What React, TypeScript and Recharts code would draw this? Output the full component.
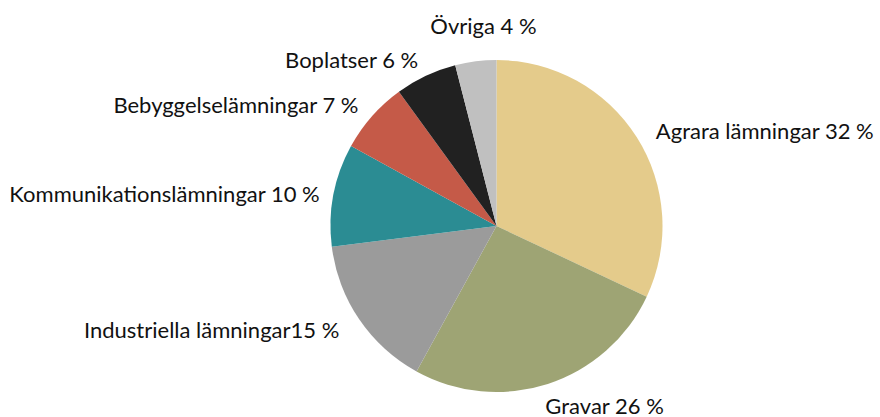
import React from 'react';
import { PieChart, Pie, Cell } from 'recharts';

const categories = [
  'Agrara lämningar',
  'Gravar',
  'Industriella lämningar',
  'Kommunikationslämningar',
  'Bebyggelselämningar',
  'Boplatser',
  'Övriga',
];
const shares = [32, 26, 15, 10, 7, 6, 4];
const labelTexts = [
  'Agrara lämningar 32 %',
  'Gravar 26 %',
  'Industriella lämningar15 %',
  'Kommunikationslämningar 10 %',
  'Bebyggelselämningar 7 %',
  'Boplatser 6 %',
  'Övriga 4 %',
];
const sliceColors = ['#E4CB8B', '#9EA474', '#9B9B9B', '#2B8C93', '#C55A48', '#212121', '#C0C0C0'];

const data = categories.map((name, i) => ({ name, value: shares[i], label: labelTexts[i] }));

// small nudges to mimic the original label placement
const labelNudge: Record<number, [number, number]> = {
  0: [4, 3],
  1: [-8, 5],
  2: [-5, 0],
  3: [4, 2],
  6: [10, -18],
};

const RADIAN = Math.PI / 180;

const renderLabel = (props: any) => {
  const { cx, cy, midAngle, outerRadius, index } = props;
  const r = outerRadius + 18;
  const cos = Math.cos(-midAngle * RADIAN);
  const sin = Math.sin(-midAngle * RADIAN);
  let x = cx + r * cos;
  let y = cy + r * sin;
  const anchor: 'start' | 'end' | 'middle' = cos > 0.3 ? 'start' : cos < -0.2 ? 'end' : 'middle';
  const nudge = labelNudge[index];
  if (nudge) {
    x += nudge[0];
    y += nudge[1];
  }
  return (
    <text
      x={x}
      y={y}
      textAnchor={anchor}
      dominantBaseline="central"
      fill="#111"
      fontSize={22}
      fontFamily="Lato, sans-serif"
    >
      {data[index].label}
    </text>
  );
};

export default function App() {
  return (
    <div style={{ position: 'absolute', left: 0, top: 0, width: 880, height: 417, background: '#fff' }}>
      <PieChart width={880} height={417} margin={{ top: 0, right: 0, bottom: 0, left: 0 }}>
        <Pie
          data={data}
          dataKey="value"
          nameKey="name"
          cx={496.5}
          cy={226}
          outerRadius={166}
          startAngle={90}
          endAngle={-270}
          stroke="none"
          label={renderLabel}
          labelLine={false}
          isAnimationActive={false}
        >
          {data.map((d, i) => (
            <Cell key={d.name} fill={sliceColors[i]} />
          ))}
        </Pie>
      </PieChart>
    </div>
  );
}
